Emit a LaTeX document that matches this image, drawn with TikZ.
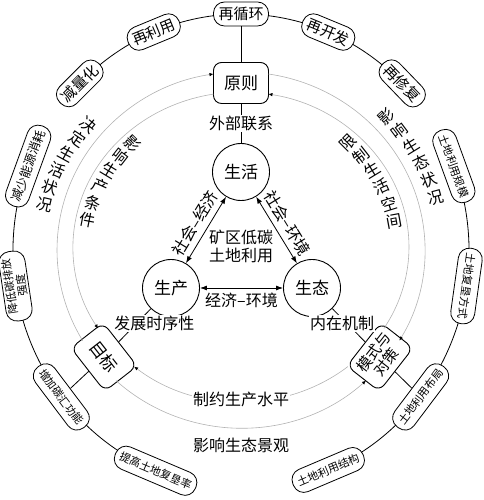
\documentclass[tikz,border=0pt]{standalone}
\usepackage{fontspec}
\setmainfont{Noto Sans CJK SC}
\usetikzlibrary{arrows.meta,calc,backgrounds}
\begin{document}
\begin{tikzpicture}[x=1pt,y=1pt,
  leaf/.style={draw,line width=0.8pt,fill=white,rounded corners=11pt,minimum height=24pt,inner xsep=5pt,inner ysep=2pt,font=\fontsize{15}{16}\selectfont},
  leafs/.style={leaf,align=center,font=\fontsize{11}{12}\selectfont},
  hub/.style={draw,line width=0.9pt,fill=white,rounded corners=8pt,minimum width=55pt,minimum height=41pt,inner sep=3pt,align=center,font=\fontsize{17}{18}\selectfont},
  circ/.style={draw,circle,line width=0.9pt,minimum size=57pt,inner sep=0pt,font=\fontsize{17}{19}\selectfont},
  lab/.style={inner sep=1pt,font=\fontsize{16}{18}\selectfont},
  flow/.style={draw=black!30,line width=0.6pt,-{Latex[length=4pt,width=3.5pt,black]}},
  dbl/.style={{Latex[length=7pt,width=5pt]}-{Latex[length=7pt,width=5pt]},line width=0.8pt}]

\useasboundingbox (0,0) rectangle (483,500);
\coordinate (O) at (241,249);
\coordinate (go) at (241,250);
\coordinate (gi) at (241,253);

\node[circ] (shenghuo) at (241,328) {生活};
\node[circ] (shengchan) at (171,212) {生产};
\node[circ] (shengtai) at (312,212) {生态};
\node[lab,align=center] (kuangqu) at (241,254) {矿区低碳\\土地利用};

\draw[dbl] (shengchan) -- node[lab,sloped,above=4pt] {社会–经济} (shenghuo);
\draw[dbl] (shenghuo) -- node[lab,sloped,above=4pt] {社会–环境} (shengtai);
\draw[dbl] (shengchan) -- node[lab,below=4pt] {经济–环境} (shengtai);

\node[hub] (yuanze) at (241,417) {原则};
\node[hub,rotate=-52] (mubiao) at (104,143) {目标};
\node[hub,rotate=52,font=\fontsize{15}{16}\selectfont] (moshi) at (380,143) {模式与\\对策};

\node[leaf] (zaixunhuan) at ($(O)+(90:228 and 237)$) {再循环};
\node[leaf,rotate=22.5] (zailiyong) at ($(O)+(112.5:228 and 237)$) {再利用};
\node[leaf,rotate=45] (jianlianghua) at ($(O)+(135:228 and 237)$) {减量化};
\node[leaf,rotate=-22.5] (zaikaifa) at ($(O)+(67.5:228 and 237)$) {再开发};
\node[leaf,rotate=-46] (zaixiufu) at ($(O)+(45:228 and 237)$) {再修复};

\node[leafs,rotate=70,font=\fontsize{12.5}{13}\selectfont] (jiannengyuan) at ($(O)+(159:228 and 237)$) {减少能源消耗};
\node[leafs,rotate=98.5,minimum width=70pt] (jiangtan) at ($(O)+(188.5:228 and 237)$) {降低碳排放\\强度};
\node[leafs,rotate=-53] (tanhui) at ($(O)+(218:228 and 237)$) {增加碳汇功能};
\node[leafs,rotate=-23] (fukenlv) at ($(O)+(248:228 and 237)$) {提高土地复垦率};

\node[leafs,rotate=-70] (guimo) at ($(O)+(21:228 and 237)$) {土地利用规模};
\node[leafs,rotate=-98] (fangshi) at ($(O)+(-8.5:228 and 237)$) {土地复垦方式};
\node[leafs,rotate=53] (buju) at ($(O)+(-38:228 and 237)$) {土地利用布局};
\node[leafs,rotate=23] (jiegou) at ($(O)+(-67.5:228 and 237)$) {土地利用结构};

\begin{pgfonlayer}{background}
\draw[line width=0.8pt] (jianlianghua.center) arc[start angle=135,end angle=45,x radius=228,y radius=237];
\draw[line width=0.8pt] (jiannengyuan.center) arc[start angle=159,end angle=248,x radius=228,y radius=237];
\draw[line width=0.8pt] (guimo.center) arc[start angle=21,end angle=-67.5,x radius=228,y radius=237];
\end{pgfonlayer}

\draw[line width=0.8pt] (zaixunhuan) -- (yuanze);
\draw[line width=0.8pt] (tanhui) -- (mubiao);
\draw[line width=0.8pt] (buju) -- (moshi);
\draw[line width=0.8pt] (yuanze) -- node[lab,fill=white] {外部联系} (shenghuo);
\draw[line width=0.8pt] (mubiao) -- node[lab,fill=white,pos=0.55,xshift=18pt] {发展时序性} (shengchan);
\draw[line width=0.8pt] (moshi) -- node[lab,fill=white,pos=0.55,xshift=-5pt] {内在机制} (shengtai);

\draw[flow] ($(go)+(210.6:184 and 178)$) arc[start angle=210.6,end angle=98.6,x radius=184,y radius=178];
\draw[flow] ($(gi)+(99.4:168 and 155)$) arc[start angle=99.4,end angle=211.7,x radius=168,y radius=155];
\draw[flow] ($(go)+(81.4:184 and 178)$) arc[start angle=81.4,end angle=-30.6,x radius=184,y radius=178];
\draw[flow] ($(gi)+(-31.7:168 and 155)$) arc[start angle=-31.7,end angle=80.6,x radius=168,y radius=155];
\draw[flow] ($(go)+(227.2:184 and 178)$) arc[start angle=227.2,end angle=312.8,x radius=184,y radius=178];
\draw[flow] ($(gi)+(309.5:168 and 155)$) arc[start angle=309.5,end angle=230.5,x radius=168,y radius=155];

\foreach \ch [count=\i from 0] in {决,定,生,活,状,况}
  \node[lab,rotate={140.5+5.3*\i-180}] at ($(go)+({140.5+5.3*\i}:{197+\i})$) {\ch};
\foreach \ch [count=\i from 0] in {影,响,生,产,条,件}
  \node[lab,rotate={135.5+6.7*\i-180}] at ($(go)+({135.5+6.7*\i}:{152+0.8*\i})$) {\ch};
\foreach \ch [count=\i from 0] in {影,响,生,态,状,况}
  \node[lab,rotate={42.5-5.5*\i}] at ($(go)+({42.5-5.5*\i}:{197+\i})$) {\ch};
\foreach \ch [count=\i from 0] in {限,制,生,活,空,间}
  \node[lab,rotate={45-6.9*\i}] at ($(go)+({45-6.9*\i}:{152+0.8*\i})$) {\ch};

\node[lab,fill=white] (zhiyue) at (241,101) {制约生产水平};
\node[lab] (yingxiang) at (241,55) {影响生态景观};

\end{tikzpicture}
\end{document}
